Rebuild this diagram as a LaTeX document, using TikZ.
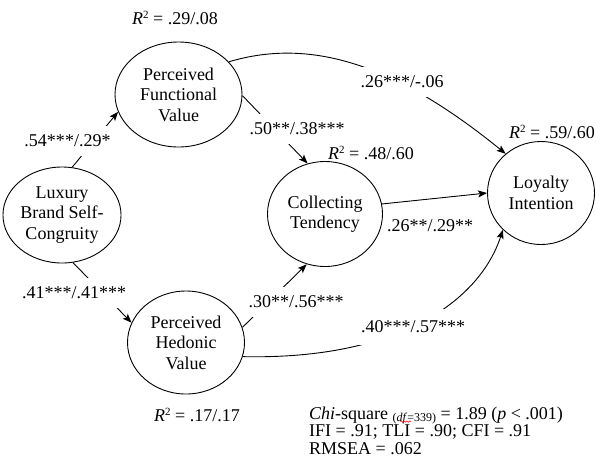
\documentclass[tikz,border=0pt]{standalone}
\usepackage{fontspec}
\setmainfont{Liberation Serif}
\usetikzlibrary{arrows.meta,shapes.geometric,decorations.pathmorphing,calc}
\newcommand{\rsqsym}{\textit{R}\raisebox{6.5pt}{\fontsize{11}{11}\selectfont 2}}
\begin{document}
\begin{tikzpicture}[x=1pt,y=-1pt,
  latent/.style={draw, ellipse, line width=0.9pt, inner sep=0pt, align=center,
    font=\fontsize{18}{20.5}\selectfont},
  coef/.style={fill=white, inner xsep=4pt, inner ysep=9pt,
    font=\fontsize{18}{20}\selectfont},
  rsq/.style={inner sep=1pt, font=\fontsize{18}{20}\selectfont},
  sem arrow/.style={line width=0.9pt, -{Stealth[length=9pt,width=7pt,inset=2pt]}},
  fitline/.style={anchor=base west, inner sep=0pt, font=\fontsize{18}{20}\selectfont}
]
\fill[white] (0,0) rectangle (596,464);
\useasboundingbox (0,0) rectangle (596,464);

% latent variables
\node[latent, minimum width=127pt, minimum height=105pt] (pfv) at (178.5,94.5) {Perceived\\Functional\\Value};
\node[latent, minimum width=110pt, minimum height=96pt] (lux) at (62,215) {Luxury\\Brand Self-\\Congruity};
\node[latent, minimum width=117pt, minimum height=103pt] (phv) at (186,342.5) {Perceived\\Hedonic\\Value};
\node[latent, minimum width=115pt, minimum height=105pt] (coll) at (325,214) {Collecting\\Tendency};
\node[latent, minimum width=107pt, minimum height=103pt] (loy) at (541,193) {Loyalty\\Intention};

% paths
\draw[sem arrow] (lux.78) -- (pfv.196);
\draw[sem arrow] (lux.283) -- (phv.160);
\draw[sem arrow] (pfv.-1) -- (coll.109);
\draw[sem arrow] (phv.15.5) -- (coll.250);
\draw[sem arrow] (coll.10) -- (loy.180);
\draw[sem arrow] (pfv.33) .. controls (318,35) and (405,72) .. (loy.132);
\draw[sem arrow] (phv.346) .. controls (400,360) and (480,300) .. (loy.224);

% coefficients
\node[coef] (l1) at (67.5,141) {.54***/.29*};
\node[coef] (l2) at (74,293) {.41***/.41***};
\node[coef] (l3) at (297,129) {.50**/.38***};
\node[coef] (l4) at (296,302) {.30**/.56***};
\node[coef] (l5) at (402,82) {.26***/-.06};
\node[coef] (l6) at (430,226) {.26**/.29**};
\node[coef, inner ysep=12pt] (l7) at (413,327) {.40***/.57***};

% R squared
\node[rsq] (r1) at (175,18) {\rsqsym{} = .29/.08};
\node[rsq] (r2) at (371,153) {\rsqsym{} = .48/.60};
\node[rsq] (r3) at (552,132) {\rsqsym{} = .59/.60};
\node[rsq] (r4) at (197,415) {\rsqsym{} = .17/.17};

% fit indices
\node[fitline] (chi1) at (309,419) {\textit{Chi}-square \raisebox{-2.5pt}{\fontsize{12}{12}\selectfont(\textit{df}=339)} = 1.89 (\textit{p} < .001)};
\node[fitline] (chi2) at (309,436.7) {IFI = .91; TLI = .90; CFI = .91};
\node[fitline] (chi3) at (309,454.3) {RMSEA = .062};
\draw[red, line width=0.5pt, decorate, decoration={snake, amplitude=0.7pt, segment length=3pt}] (400,421.5) -- (411,421.5);
\end{tikzpicture}
\end{document}
